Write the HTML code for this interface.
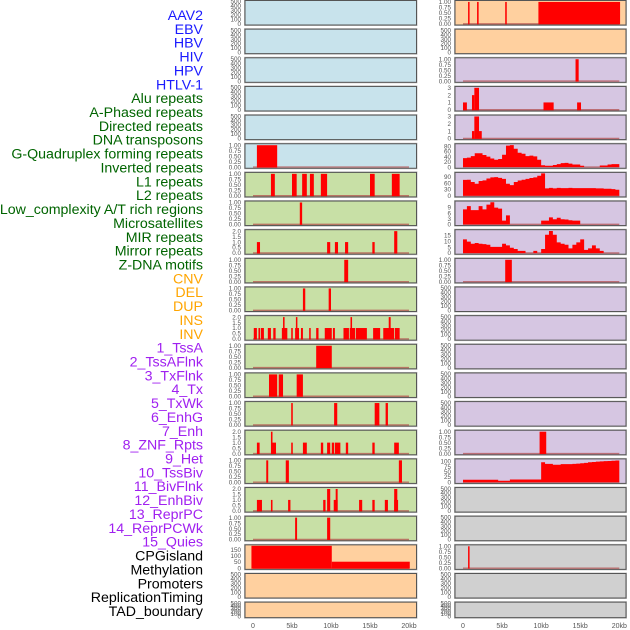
<!DOCTYPE html>
<html><head><meta charset="utf-8"><style>
body{margin:0;background:#fff;width:630px;height:630px;overflow:hidden}
svg{display:block;font-family:"Liberation Sans",sans-serif}
</style></head><body>
<svg id="chart" width="630" height="630" viewBox="0 0 630 630"></svg>
<script>
// ---- data ----
const labelNames=["AAV2","EBV","HBV","HIV","HPV","HTLV-1","Alu repeats","A-Phased repeats","Directed repeats","DNA transposons","G-Quadruplex forming repeats","Inverted repeats","L1 repeats","L2 repeats","Low_complexity A/T rich regions","Microsatellites","MIR repeats","Mirror repeats","Z-DNA motifs","CNV","DEL","DUP","INS","INV","1_TssA","2_TssAFlnk","3_TxFlnk","4_Tx","5_TxWk","6_EnhG","7_Enh","8_ZNF_Rpts","9_Het","10_TssBiv","11_BivFlnk","12_EnhBiv","13_ReprPC","14_ReprPCWk","15_Quies","CPGisland","Methylation","Promoters","ReplicationTiming","TAD_boundary"];
const labelGroups=[6,13,5,15,5];
const xTickKb=[0,5,10,15,20];
const xTickLabels=["0","5kb","10kb","15kb","20kb"];
const areaKb=[0,0.5,1,1.5,2,2.5,3,3.5,4,4.5,5,5.5,6,6.5,7,7.5,8,8.5,9,9.5,10,10.5,11,11.5,12,12.5,13,13.5,14,14.5,15,15.5,16,16.5,17,17.5,18,18.5,19,19.5];
const r05Vals=[34,36,42,53,53,46,40,33,28,31,47,82,84,70,55,51,42,44,41,28,7,5,5,8,11,15,16,13,10,10,5,0,0,0,0,6,6,10,11,11];
const r06Vals=[75,76,65,57,70,73,82,87,88,85,80,57,50,65,72,76,80,84,87,95,106,35,37,35,37,36,36,37,36,36,36,36,36,36,35,35,33,33,31,28];
const r07Vals=[8,9.7,7.6,7.6,9.7,8,10.5,11.8,8.9,8.4,2,4.8,0,0,0,0,0,0,0,0,2,2,3.7,2.7,3.5,2.7,2.6,2.2,2,2,0,0,0,0,0,0,0,0,0,0];
const r08Vals=[11.6,9.6,7.8,8.5,7.8,7.5,7,5.2,5.2,5.2,7.8,6.5,4.4,3.4,1.8,1.8,0,0,1.8,0,3.4,15.5,18.6,15.5,9,7.8,7,3.9,7,9,11.6,2.6,3.9,6.5,3.9,1.8,0,0,0,0];
const r16Vals=[12,12,12,12,12,12,12,12,12,7,7,7,13,13,13,13,13,13,13,13,96,88,88,84,84,87,87,87,88,89,91,93,96,97,99,100,101,102,103,104];
const l05Bars=[[0.5,3.1,1]];
const l06Bars=[[2.3,2.8,1],[5.0,5.6,1],[6.3,6.9,1],[7.3,7.8,1],[8.7,9.5,1],[15.0,15.6,1],[17.8,18.8,1]];
const l07Bars=[[6.0,6.3,1]];
const l08Bars=[[0.5,0.9,1],[9.5,9.9,1],[10.5,10.9,1],[11.8,12.2,1],[15.3,15.6,1],[18.1,18.5,2]];
const l09Bars=[[11.7,12.2,1]];
const l10Bars=[[6.4,6.7,1],[9.7,10.0,1]];
const l11Bars=[[0.1,0.5,1],[0.7,0.9,1],[1.0,1.4,1],[1.9,2.3,1],[2.6,2.9,1],[3.7,4.4,1],[3.85,4.05,2],[4.9,5.1,1],[5.4,5.9,1],[5.5,5.65,2],[6.15,6.4,1],[7.2,7.4,1],[8.1,8.4,1],[9.2,10.1,1],[10.25,10.5,1],[11.6,12.3,1],[12.4,13.1,1],[12.5,12.7,2],[13.2,14.6,1],[15.4,16.3,1],[16.7,18.1,1],[17.4,17.65,2],[18.2,18.8,1]];
const l12Bars=[[8.1,10.1,1]];
const l13Bars=[[2.05,3.1,1],[3.3,3.85,1],[5.6,6.4,1]];
const l14Bars=[[4.9,5.1,1],[10.4,10.8,1],[15.6,16.2,1],[17.0,17.3,1]];
const l15Bars=[[0.5,0.85,1],[2.3,2.5,2],[2.5,2.95,1],[4.9,5.1,1],[6.4,6.9,1],[8.7,9.0,1],[9.5,9.9,1],[10.1,10.4,1],[10.5,11.2,1],[11.9,12.2,1],[15.3,15.6,1],[18.1,18.7,1]];
const l16Bars=[[1.7,1.95,1],[4.2,4.6,1],[18.7,19.1,1]];
const l17Bars=[[0.5,1.15,1],[2.3,2.5,1],[4.5,4.8,1],[9.0,9.3,1],[9.5,9.9,2],[10.35,10.85,1],[10.6,10.85,2],[13.6,14.0,1],[15.3,15.6,1],[16.9,17.3,1],[18.1,18.6,1],[18.1,18.5,2]];
const l18Bars=[[5.4,5.65,1],[9.5,9.9,1]];
const l19Bars=[[-0.2,10.1,180],[10.1,20.1,52]];
const r00Bars=[[0.65,0.8,1],[1.8,2.0,1],[5.4,5.6,1],[9.65,9.8,1],[9.8,20.1,1]];
const r02Bars=[[14.4,14.8,1]];
const r03Bars=[[0,0.5,1],[1.15,1.45,2],[1.45,2.05,3],[10.3,11.6,1],[14.6,15.1,1]];
const r04Bars=[[1.15,1.45,1],[1.45,2.05,3],[2.05,2.4,1]];
const r09Bars=[[5.4,6.25,1]];
const r15Bars=[[9.8,10.65,1]];
const r19Bars=[[0.65,0.8,1]];
const tick1=["0.00","0.25","0.50","0.75","1.00"];
const tick2=["0.0","0.5","1.0","1.5","2.0"];
const tickEmpty=["0","100","200","300","400","500"];

// ---- layout ----
const svg=document.getElementById('chart');
const NS='http://www.w3.org/2000/svg';
function mk(tag,attrs,parent){const e=document.createElementNS(NS,tag);for(const k in attrs)e.setAttribute(k,attrs[k]);(parent||svg).appendChild(e);return e;}
const colors=["#1a1aff","#006400","#ffa500","#a020f0","#000000"];
let gi=0,cnt=0;
labelNames.forEach((n,i)=>{
  while(cnt>=labelGroups[gi]){gi++;cnt=0;}cnt++;
  const t=mk('text',{x:203,y:15+i*13.86+5,'text-anchor':'end','font-size':'14.2',fill:colors[gi]});
  t.textContent=n;
  
  
});
const sides={L:{x0:245,x1:416.5,k0:253,k20:409},R:{x0:455,x1:626,k0:463,k20:619.3}};
const bgL=["#c8e3ec","#c8e3ec","#c8e3ec","#c8e3ec","#c8e3ec","#c8e3ec"].concat(Array(13).fill("#c8e0a6"),["#ffd09f","#ffd09f","#ffd09f"]);
const bgR=["#ffd09f","#ffd09f"].concat(Array(15).fill("#d6c6e2"),Array(5).fill("#d0d0d0"));
function rowTop(r){return 0.5+r*28.65;}
function rowH(r){return r===21?15.5:24.5;}
const specL={5:{bars:l05Bars,ymax:1.02,ticks:tick1,tv:[0,.25,.5,.75,1]},6:{bars:l06Bars,ymax:1.02,ticks:tick1,tv:[0,.25,.5,.75,1]},7:{bars:l07Bars,ymax:1.02,ticks:tick1,tv:[0,.25,.5,.75,1]},8:{bars:l08Bars,ymax:2.04,ticks:tick2,tv:[0,.5,1,1.5,2]},9:{bars:l09Bars,ymax:1.02,ticks:tick1,tv:[0,.25,.5,.75,1]},10:{bars:l10Bars,ymax:1.02,ticks:tick1,tv:[0,.25,.5,.75,1]},11:{bars:l11Bars,ymax:2.04,ticks:tick2,tv:[0,.5,1,1.5,2]},12:{bars:l12Bars,ymax:1.02,ticks:tick1,tv:[0,.25,.5,.75,1]},13:{bars:l13Bars,ymax:1.02,ticks:tick1,tv:[0,.25,.5,.75,1]},14:{bars:l14Bars,ymax:1.02,ticks:tick1,tv:[0,.25,.5,.75,1]},15:{bars:l15Bars,ymax:2.04,ticks:tick2,tv:[0,.5,1,1.5,2]},16:{bars:l16Bars,ymax:1.02,ticks:tick1,tv:[0,.25,.5,.75,1]},17:{bars:l17Bars,ymax:2.04,ticks:tick2,tv:[0,.5,1,1.5,2]},18:{bars:l18Bars,ymax:1.02,ticks:tick1,tv:[0,.25,.5,.75,1]},19:{bars:l19Bars,ymax:180,ticks:["0","50","100","150"],tv:[0,50,100,150]}};
const specR={0:{bars:r00Bars,ymax:1.02,ticks:tick1,tv:[0,.25,.5,.75,1]},2:{bars:r02Bars,ymax:1.02,ticks:tick1,tv:[0,.25,.5,.75,1]},3:{bars:r03Bars,ymax:3.05,ticks:["0","1","2","3"],tv:[0,1,2,3]},4:{bars:r04Bars,ymax:3.05,ticks:["0","1","2","3"],tv:[0,1,2,3]},5:{area:r05Vals,ymax:85.5,ticks:["0","20","40","60","80"],tv:[0,20,40,60,80]},6:{area:r06Vals,ymax:106,ticks:["0","30","60","90"],tv:[0,30,60,90]},7:{area:r07Vals,ymax:11.9,ticks:["0","3","6","9"],tv:[0,3,6,9]},8:{area:r08Vals,ymax:18.9,ticks:["0","5","10","15"],tv:[0,5,10,15]},9:{bars:r09Bars,ymax:1.02,ticks:tick1,tv:[0,.25,.5,.75,1]},15:{bars:r15Bars,ymax:1.02,ticks:tick1,tv:[0,.25,.5,.75,1]},16:{area:r16Vals,ymax:107,ticks:["0","25","50","75","100"],tv:[0,25,50,75,100]},19:{bars:r19Bars,ymax:1.02,ticks:tick1,tv:[0,.25,.5,.75,1]}};

function drawPanel(side,r){
  const s=sides[side];const top=rowTop(r),h=rowH(r),bot=top+h;
  const spec=(side==='L'?specL:specR)[r];
  const g=mk('g',{});
  
  
  mk('rect',{x:s.x0-0.5,y:top-0.5,width:s.x1-s.x0+1,height:h+1,fill:'none',stroke:'#c4c4c4','stroke-width':1},g);
  mk('rect',{x:s.x0,y:top,width:s.x1-s.x0,height:h,fill:(side==='L'?bgL:bgR)[r],stroke:'#555','stroke-width':1},g);
  const xs=kb=>s.k0+(s.k20-s.k0)*kb/20;
  const y0=bot-1.2;
  if(!spec){
    tickEmpty.forEach((t,i)=>{const tx=mk('text',{x:s.x0-4,y:y0-(i/5)*(h-2.2)+2.2,'text-anchor':'end','font-size':'6.3',fill:'#555'},g);tx.textContent=t;
      });
    return;
  }
  const ys=v=>y0-(v/spec.ymax)*(h-2.2);
  spec.tv.forEach((v,i)=>{const tx=mk('text',{x:s.x0-4,y:ys(v)+2.2,'text-anchor':'end','font-size':'6.3',fill:'#555'},g);tx.textContent=spec.ticks[i];
    });
  const bl=mk('line',{x1:xs(0),x2:xs(20),y1:y0,y2:y0,stroke:'#b04848','stroke-opacity':0.7,'stroke-width':1.4},g);
  
  
  if(spec.bars){spec.bars.forEach(b=>{
    const x1=xs(b[0]),x2=xs(b[1]);const w=Math.max(1.5,x2-x1);
    const rc=mk('rect',{x:x1,y:ys(b[2]),width:w,height:y0-ys(b[2])+0.5,fill:'#ff0000'},g);
    
    
  });}
  if(spec.area){
    let d='M'+xs(areaKb[0])+','+y0;
    spec.area.forEach((v,i)=>{const k1=areaKb[i],k2=i+1<areaKb.length?areaKb[i+1]:20;d+=' L'+xs(k1)+','+ys(v)+' L'+xs(k2)+','+ys(v);});
    d+=' L'+xs(20)+','+y0+' Z';
    const p=mk('path',{d:d,fill:'#ff0000'},g);
    
    
  }
}
for(let r=0;r<22;r++){drawPanel('L',r);drawPanel('R',r);}
['L','R'].forEach(side=>{const s=sides[side];xTickKb.forEach((k,i)=>{
  const t=mk('text',{x:s.k0+(s.k20-s.k0)*k/20,y:628,'text-anchor':'middle','font-size':'7',fill:'#555'});
  t.textContent=xTickLabels[i];
  
  
});});
</script>
</body></html>
